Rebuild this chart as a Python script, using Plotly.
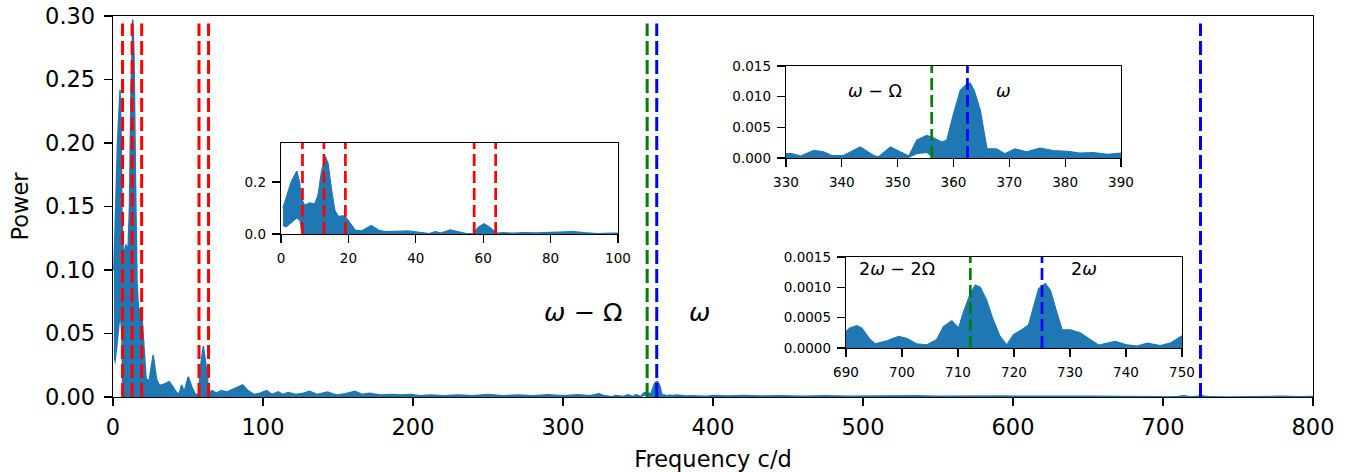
import plotly.graph_objects as go

# ---------------- data ----------------
freq = [0.6, 1.5, 3.0, 4.7, 5.5, 6.0, 7.0, 8.5, 10.0, 11.0, 12.0, 13.2, 14.0, 15.0, 16.0, 17.0,
        18.5, 19.5, 20.5, 22.0, 24.0, 26.8, 29.0, 31.0, 34.0, 37.5, 40.0, 42.0, 44.0, 45.8, 47.5,
        50.2, 52.5, 55.0, 57.0, 58.5, 60.2, 62.0, 64.0, 66.0, 69.0, 72.0, 76.0, 80.0, 86.5, 90.0,
        94.0, 98.0, 102.4, 106.0, 110.2, 113.0, 116.9, 122.0, 127.0, 131.0, 136.0, 143.0, 149.0,
        155.0, 161.3, 166.0, 171.0, 178.0, 186.0, 192.0, 198.0, 205.0, 212.0, 220.0, 230.0, 240.0,
        250.0, 260.0, 270.0, 280.0, 290.0, 300.0, 310.0, 318.0, 324.0, 327.0,
        330.0, 331.0, 332.6, 335.0, 336.7, 338.2, 340.3, 343.3, 345.7, 346.6, 348.7, 350.5, 352.0,
        353.4, 355.2, 356.4, 357.9, 358.8, 360.0, 361.2, 362.4, 363.0, 363.7, 364.8, 365.6, 366.0,
        367.7, 369.2, 371.0, 373.1, 375.5, 377.9, 380.5, 382.6, 385.0, 387.6, 390.0,
        395.0, 400.0, 410.0, 420.0, 432.0, 445.0, 460.0, 475.0, 490.0, 505.0, 520.0, 535.0, 550.0,
        565.0, 580.0, 595.0, 610.0, 625.0, 640.0, 655.0, 670.0, 680.0, 686.0,
        690.0, 690.7, 691.9, 692.8, 694.3, 695.2, 697.3, 699.4, 700.8, 702.6, 704.4, 706.2, 707.4,
        708.9, 710.1, 711.0, 712.2, 713.1, 714.0, 715.1, 716.3, 717.5, 718.7, 719.9, 721.4, 722.6,
        723.5, 724.4, 725.6, 726.5, 727.7, 728.6, 730.1, 731.8, 733.6, 735.1, 738.1, 740.2, 742.0,
        743.8, 746.1, 747.9, 750.0,
        755.0, 760.0, 770.0, 780.0, 790.0, 800.0]

power_hi = [0.10, 0.14, 0.20, 0.242, 0.20, 0.14, 0.11, 0.12, 0.115, 0.15, 0.24, 0.297, 0.27, 0.17, 0.09, 0.068,
            0.07, 0.06, 0.04, 0.015, 0.012, 0.033, 0.014, 0.009, 0.010, 0.012, 0.008, 0.004, 0.002, 0.0095, 0.004,
            0.016, 0.008, 0.002, 0.002, 0.025, 0.040, 0.025, 0.003, 0.005, 0.003, 0.005, 0.004, 0.006, 0.0095, 0.005,
            0.002, 0.003, 0.005, 0.002, 0.004, 0.002, 0.0035, 0.002, 0.003, 0.0045, 0.002, 0.004, 0.0015,
            0.0025, 0.0045, 0.002, 0.003, 0.0015, 0.002, 0.0015, 0.002, 0.001, 0.0015, 0.001, 0.0015, 0.001,
            0.002, 0.001, 0.0015, 0.001, 0.0018, 0.001, 0.0018, 0.001, 0.0025, 0.0012,
            0.0007, 0.0007, 0.0003, 0.00125, 0.001, 0.0004, 0.0004, 0.0018, 0.0004, 0.0002, 0.0018, 0.001, 0.0003,
            0.0029, 0.0037, 0.0033, 0.0026, 0.0029, 0.0072, 0.011, 0.0121, 0.0122, 0.011, 0.0078, 0.0032, 0.0015,
            0.0015, 0.0007, 0.0015, 0.001, 0.0016, 0.0012, 0.0011, 0.0008, 0.0009, 0.0006, 0.0008,
            0.0005, 0.0012, 0.0008, 0.0011, 0.0007, 0.0010, 0.0006, 0.0009, 0.0005, 0.0008, 0.0006, 0.0009, 0.0005,
            0.0007, 0.0004, 0.0008, 0.0005, 0.0007, 0.0004, 0.0006, 0.0004, 0.0005, 0.0003,
            0.00027, 0.00033, 0.00037, 0.00033, 0.00014, 0.00007, 0.00012, 0.00019, 0.00016, 0.00007, 0.00005, 0.00014, 0.00035,
            0.00045, 0.00033, 0.0006, 0.0009, 0.00104, 0.001, 0.00079, 0.00046, 0.00019, 0.00005, 0.00022, 0.0003, 0.00038,
            0.00068, 0.00098, 0.00106, 0.00095, 0.00057, 0.0003, 0.0003, 0.00025, 0.00014, 0.00005, 0.00011, 0.00005, 0.00003,
            0.00008, 0.00004, 0.00008, 0.0002,
            0.0002, 0.0005, 0.0003, 0.0006, 0.0002, 0.0004]

# lower edge of the dense, oscillating periodogram band (mostly zero)
power_lo = [0.03, 0.025, 0.04, 0.06, 0.05, 0.0] + [0.0] * (len(freq) - 6)
lo_fix = {352.0: 0.0, 353.4: 0.0006, 355.2: 0.0008, 356.4: 0.0}
for i, f in enumerate(freq):
    if f in lo_fix:
        power_lo[i] = lo_fix[f]

omega_minus_Omega = 356.1
omega = 362.5
Omega_marks = [6.37, 12.74, 19.11, 57.33, 63.7]
two_w_minus_two_W = 712.2
two_omega = 725.0

main_text = ["<i>ω</i> − Ω", "<i>ω</i>"]
inset2_text = ["<i>ω</i> − Ω", "<i>ω</i>"]
inset3_text = ["2<i>ω</i> − 2Ω", "2<i>ω</i>"]

# ---------------- figure ----------------
W, H = 1347, 472
FILL = "#1f77b4"
FONT = "DejaVu Sans"

def px_x(a, b):
    return [a / W, b / W]

def px_y(top, bottom):
    return [1 - bottom / H, 1 - top / H]

fig = go.Figure()
for k, ax in enumerate(["", "2", "3", "4"]):
    xa, ya = "x" + ax, "y" + ax
    fig.add_trace(go.Scatter(x=freq, y=power_lo, mode="lines", line=dict(width=0, color=FILL),
                             xaxis=xa, yaxis=ya, showlegend=False, hoverinfo="skip"))
    fig.add_trace(go.Scatter(x=freq, y=power_hi, mode="lines", fill="tonexty", fillcolor=FILL,
                             line=dict(width=1.5 if k == 0 else 1.2, color=FILL),
                             xaxis=xa, yaxis=ya, showlegend=False))

def axstyle(fs, **kw):
    d = dict(showline=True, linecolor="black", linewidth=1.3, mirror=True, ticks="outside",
             ticklen=8, tickwidth=1.3, tickcolor="black", showgrid=False, zeroline=False,
             automargin=False,
             tickfont=dict(family=FONT, size=fs, color="black"), fixedrange=True)
    d.update(kw)
    return d

fig.update_layout(
    template="none",
    width=W, height=H, margin=dict(l=0, r=0, t=0, b=0, pad=0, autoexpand=False),
    paper_bgcolor="white", plot_bgcolor="white", showlegend=False,
    font=dict(family=FONT, color="black"),
    xaxis=axstyle(22.5, domain=px_x(113, 1313), range=[0, 800], dtick=100, tick0=0,
                  ticklabelstandoff=2,
                  title=dict(text="Frequency c/d", font=dict(family=FONT, size=22.5), standoff=12)),
    yaxis=axstyle(22.5, domain=px_y(16, 397), range=[0, 0.30], dtick=0.05, tick0=0,
                  tickformat=".2f", ticklabelstandoff=4,
                  title=dict(text="Power", font=dict(family=FONT, size=22.5), standoff=10)),
    xaxis2=axstyle(13.5, domain=px_x(281, 618), range=[0, 100], dtick=20, tick0=0,
                   anchor="y2", ticklabelstandoff=3),
    yaxis2=axstyle(13.5, domain=px_y(143, 234), range=[0, 0.35], dtick=0.2, tick0=0,
                   tickformat=".1f", anchor="x2", ticklabelstandoff=3),
    xaxis3=axstyle(13.5, domain=px_x(786, 1121), range=[330, 390], dtick=10, tick0=330,
                   anchor="y3", ticklabelstandoff=3),
    yaxis3=axstyle(13.5, domain=px_y(66, 158), range=[0, 0.015], dtick=0.005, tick0=0,
                   tickformat=".3f", anchor="x3", ticklabelstandoff=3),
    xaxis4=axstyle(13.5, domain=px_x(846, 1182), range=[690, 750], dtick=10, tick0=690,
                   anchor="y4", ticklabelstandoff=3),
    yaxis4=axstyle(13.5, domain=px_y(257, 348), range=[0, 0.0015], dtick=0.0005, tick0=0,
                   tickformat=".4f", anchor="x4", ticklabelstandoff=3),
)

def vline(x, color, xref, yref, y0, y1, width, dash):
    fig.add_shape(type="line", x0=x, x1=x, y0=y0, y1=y1, xref=xref, yref=yref,
                  line=dict(color=color, width=width, dash=dash), layer="above")

MD = "14px,5px"
ID = "12px,5px"
for f in Omega_marks:
    vline(f, "red", "x", "y domain", 0, 0.98, 3, MD)
    vline(f, "red", "x2", "y2 domain", 0, 1, 2.7, ID)
vline(omega_minus_Omega, "green", "x", "y domain", 0, 0.98, 3, MD)
vline(omega, "blue", "x", "y domain", 0, 0.98, 3, MD)
vline(two_omega, "blue", "x", "y domain", 0, 0.98, 3, MD)
vline(omega_minus_Omega, "green", "x3", "y3 domain", 0, 1, 2.7, ID)
vline(omega, "blue", "x3", "y3 domain", 0, 1, 2.7, ID)
vline(two_w_minus_two_W, "green", "x4", "y4 domain", 0, 1, 2.7, ID)
vline(two_omega, "blue", "x4", "y4 domain", 0, 1, 2.7, ID)

def label(text, xpx, ypx, size):
    fig.add_annotation(text=text, x=xpx / W, y=1 - ypx / H, xref="paper", yref="paper",
                       showarrow=False, xanchor="center", yanchor="middle",
                       font=dict(family=FONT, size=size, color="black"))

label(main_text[0], 583, 312, 25.5)
label(main_text[1], 699, 312, 25.5)
label(inset2_text[0], 875, 91, 17.5)
label(inset2_text[1], 1003, 91, 17.5)
label(inset3_text[0], 897, 269, 17.5)
label(inset3_text[1], 1084, 269, 17.5)

fig.write_html("out.html", config={"displayModeBar": False, "staticPlot": True},
               post_script="document.body.style.margin='0';document.body.style.overflow='hidden';")
